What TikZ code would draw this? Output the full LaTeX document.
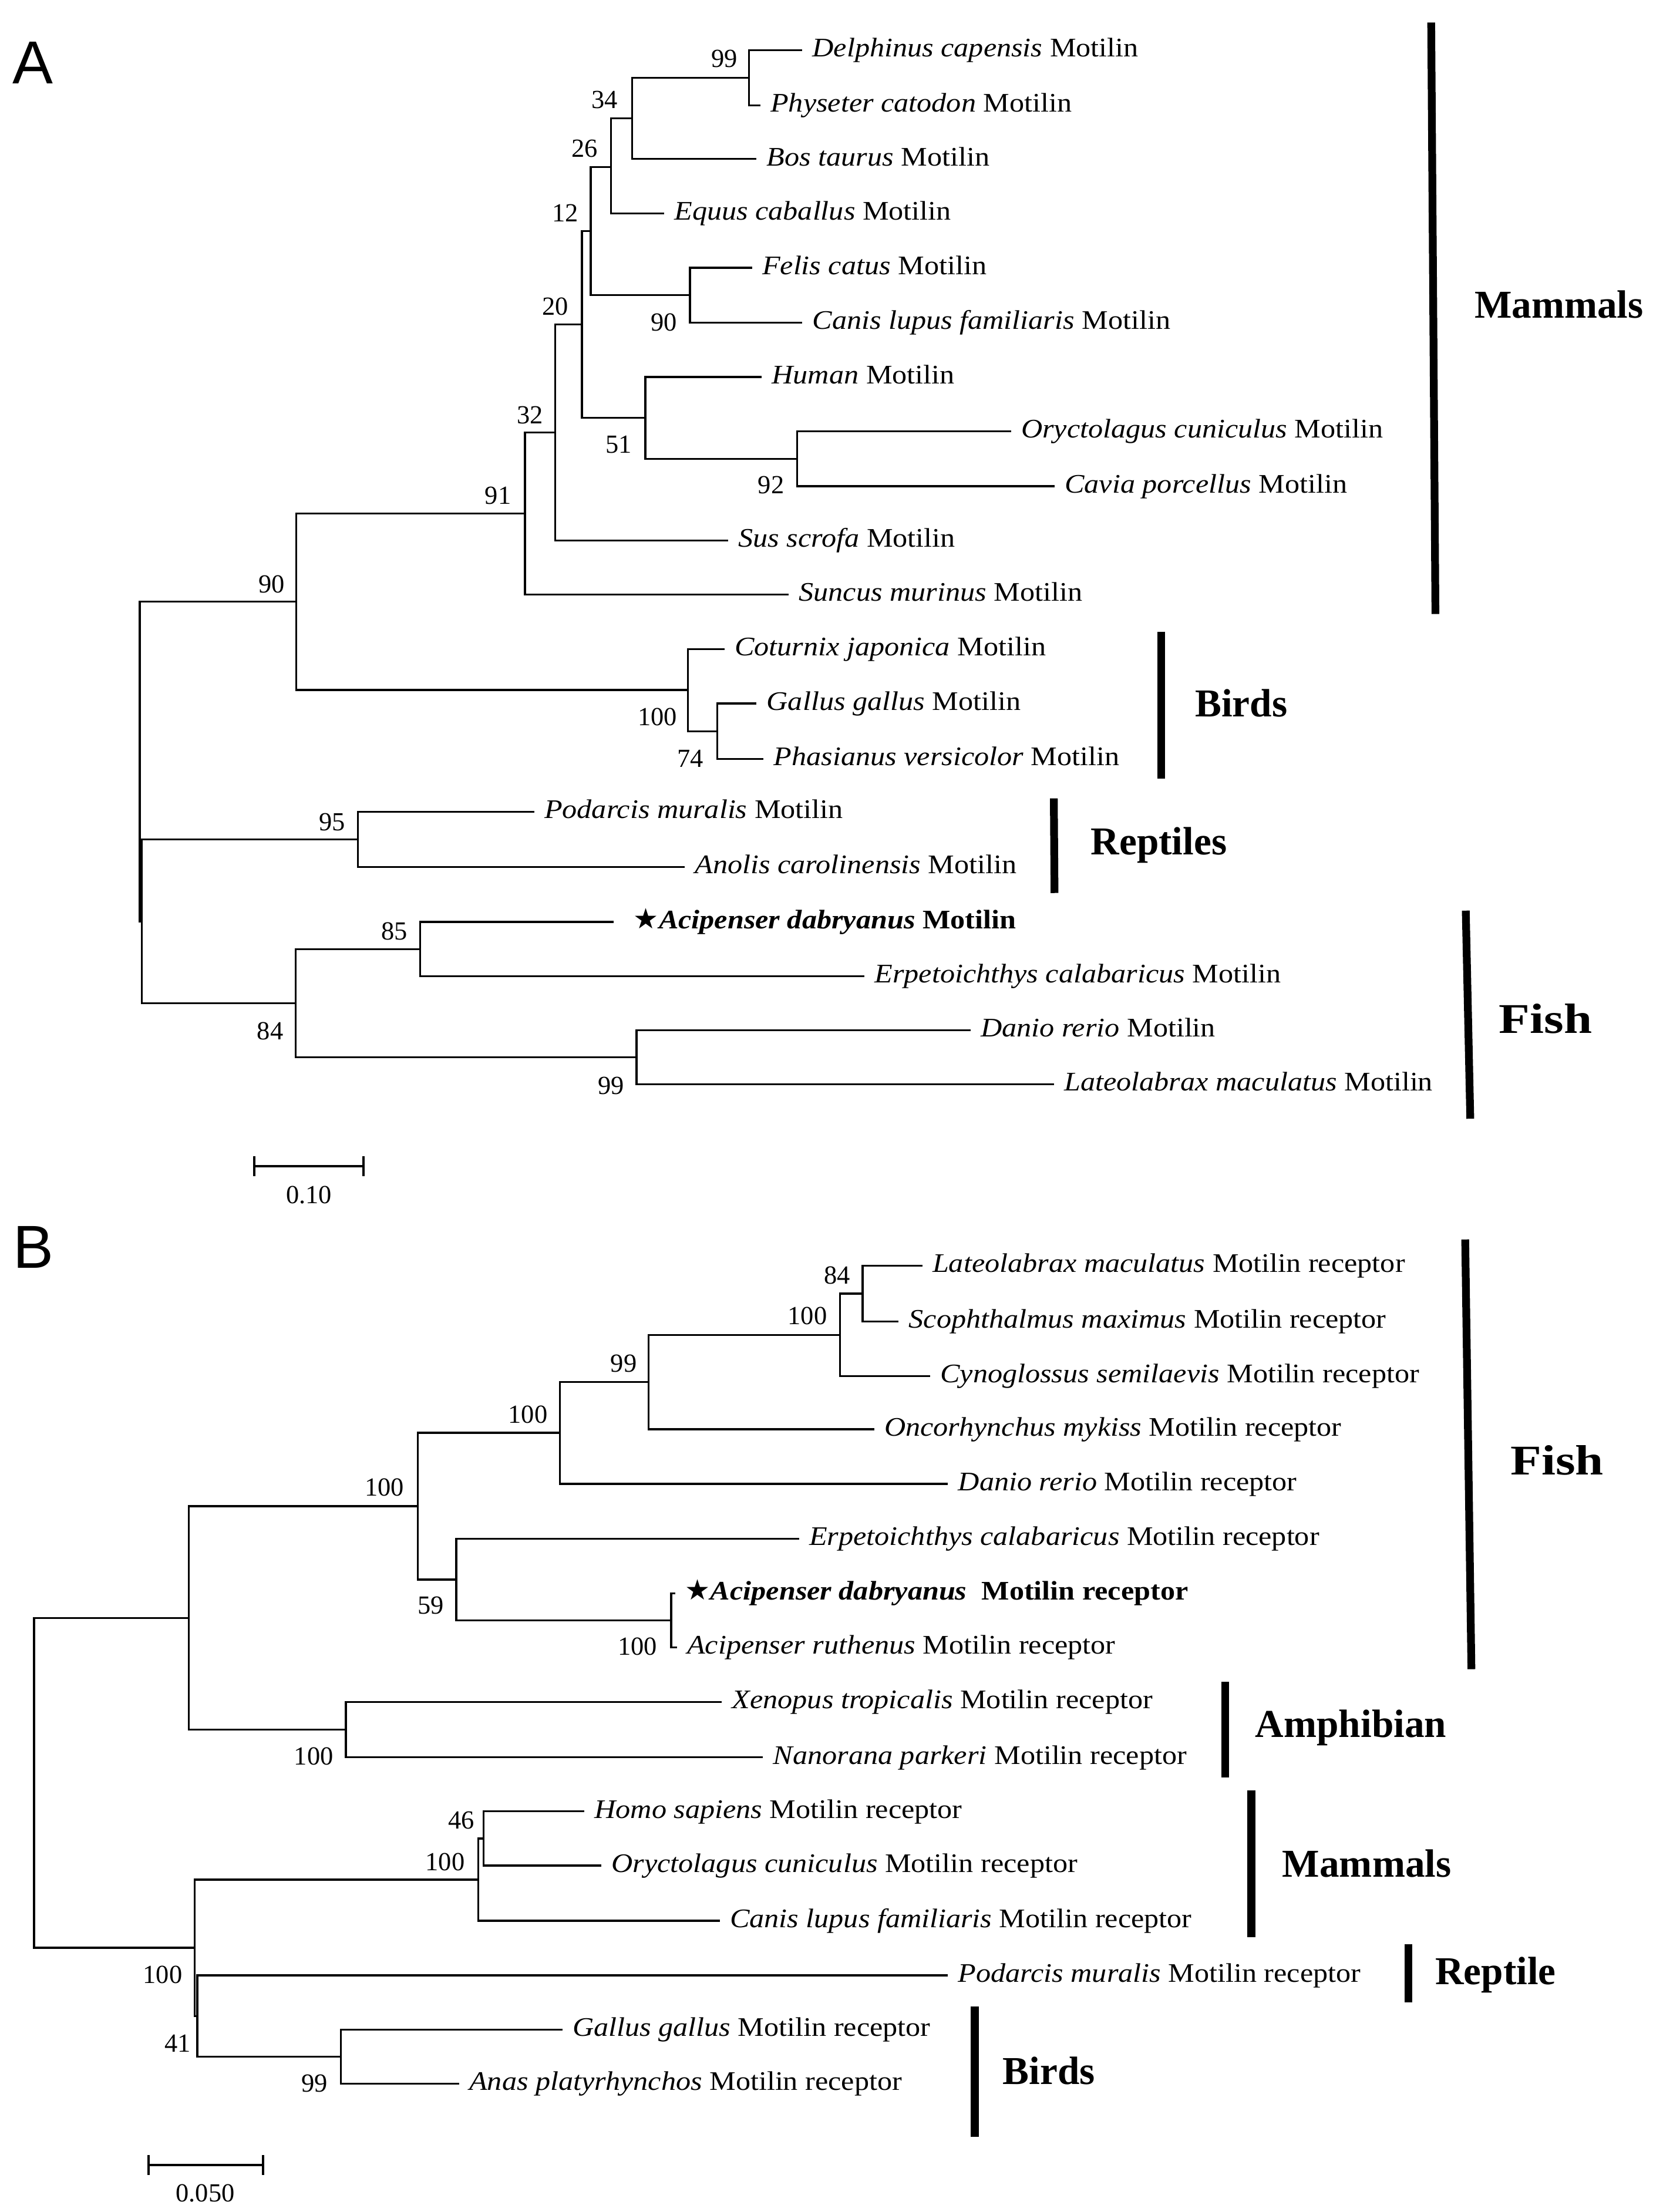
\documentclass[tikz,border=0pt]{standalone}
\usepackage{fontspec}
\setmainfont{Liberation Serif}
\newfontfamily\tipfont{Liberation Serif}[FakeStretch=1.1]
\newfontfamily\panelfont{Liberation Sans}
\newfontfamily\starfont{DejaVu Sans}
\newfontfamily\fishfont{Liberation Serif}[FakeStretch=1.2]
\newcommand{\stR}{{\starfont\fontsize{20}{20}\selectfont ★}}
\begin{document}
\begin{tikzpicture}[x=1pt,y=-1pt,
  br/.style={line width=1.4pt},
  sbar/.style={line width=1.6pt},
  grpbar/.style={line width=5.5pt},
  tipl/.style={anchor=west, inner xsep=7pt, inner ysep=0pt, text height=12pt, text depth=2.6pt, font=\tipfont\fontsize{19}{23}\selectfont},
  bs/.style={anchor=east, inner sep=0pt, text height=12.5pt, text depth=0pt, font=\fontsize{18.5}{20}\selectfont},
  grp/.style={anchor=west, inner sep=0pt, text height=19pt, text depth=0pt, font=\fontsize{28}{30}\selectfont\bfseries},
  fishl/.style={anchor=west, inner sep=0pt, text height=20.4pt, text depth=0pt, font=\fishfont\fontsize{30}{32}\selectfont\bfseries},
  panel/.style={anchor=base west, inner sep=0pt, font=\panelfont\fontsize{43}{43}\selectfont}]
\fill[white] (0,0) rectangle (1171.7,1568);
\useasboundingbox (0,0) rectangle (1171.7,1568);

% ================= Panel A =================
\node[panel] (pA) at (8.6,59.3) {A};

\coordinate (a99) at (530.9,55.2);
\coordinate (a34) at (448,83.95);
\coordinate (a26) at (433.2,118.3);
\coordinate (a12) at (418.7,163.9);
\coordinate (a90fc) at (489.1,209.25);
\coordinate (a20) at (412.5,230.1);
\coordinate (a51) at (457.4,296.2);
\coordinate (a92) at (565,325.2);
\coordinate (a32) at (393.5,306.65);
\coordinate (a91) at (372.1,364.05);
\coordinate (a90) at (209.9,426.5);
\coordinate (abirds) at (487.7,489.15);
\coordinate (a74) at (508.5,518.35);
\coordinate (aroot) at (99.1,539.7);
\coordinate (a2) at (100.6,653.2);
\coordinate (a95) at (253.7,594.95);
\coordinate (a84) at (209.5,711.1);
\coordinate (a85) at (297.9,672.75);
\coordinate (a99b) at (451.2,749.35);

\node[tipl] (dcap) at (568.7,35.6) {\textit{Delphinus capensis} Motilin};
\node[tipl] (pcat) at (539,74.8) {\textit{Physeter catodon} Motilin};
\node[tipl] (btau) at (536.3,112.7) {\textit{Bos taurus} Motilin};
\node[tipl] (ecab) at (470.8,151.3) {\textit{Equus caballus} Motilin};
\node[tipl] (fcat) at (533.1,189.8) {\textit{Felis catus} Motilin};
\node[tipl] (clup) at (568.7,228.7) {\textit{Canis lupus familiaris} Motilin};
\node[tipl] (hum) at (540,267.2) {\textit{Human} Motilin};
\node[tipl] (ocun) at (716.7,305.8) {\textit{Oryctolagus cuniculus} Motilin};
\node[tipl] (cpor) at (747.6,344.6) {\textit{Cavia porcellus} Motilin};
\node[tipl] (sscr) at (516.3,383.2) {\textit{Sus scrofa} Motilin};
\node[tipl] (smur) at (559.1,421.4) {\textit{Suncus murinus} Motilin};
\node[tipl] (cjap) at (513.6,460.2) {\textit{Coturnix japonica} Motilin};
\node[tipl] (ggal) at (536.3,498.7) {\textit{Gallus gallus} Motilin};
\node[tipl] (pver) at (541.3,538) {\textit{Phasianus versicolor} Motilin};
\node[tipl] (pmur) at (378.7,575.4) {\textit{Podarcis muralis} Motilin};
\node[tipl] (acar) at (485.5,614.5) {\textit{Anolis carolinensis} Motilin};
\node[tipl] (adab) at (434.9,653.5) {\hspace{7pt}\stR\textbf{\textit{Acipenser dabryanus} Motilin}};
\node[tipl] (ecal) at (612.8,692) {\textit{Erpetoichthys calabaricus} Motilin};
\node[tipl] (drer) at (688,730.2) {\textit{Danio rerio} Motilin};
\node[tipl] (lmac) at (747.2,768.5) {\textit{Lateolabrax maculatus} Motilin};

\draw[br] (a99) |- (dcap.west) (a99) |- (pcat.west);
\draw[br] (a34) |- (a99) (a34) |- (btau.west);
\draw[br] (a26) |- (a34) (a26) |- (ecab.west);
\draw[br] (a12) |- (a26) (a12) |- (a90fc);
\draw[br] (a90fc) |- (fcat.west) (a90fc) |- (clup.west);
\draw[br] (a20) |- (a12) (a20) |- (a51);
\draw[br] (a51) |- (hum.west) (a51) |- (a92);
\draw[br] (a92) |- (ocun.west) (a92) |- (cpor.west);
\draw[br] (a32) |- (a20) (a32) |- (sscr.west);
\draw[br] (a91) |- (a32) (a91) |- (smur.west);
\draw[br] (a90) |- (a91) (a90) |- (abirds);
\draw[br] (abirds) |- (cjap.west) (abirds) |- (a74);
\draw[br] (a74) |- (ggal.west) (a74) |- (pver.west);
\draw[br] (aroot) |- (a90) (aroot) |- (a2);
\draw[br] (a2) |- (a95) (a2) |- (a84);
\draw[br] (a95) |- (pmur.west) (a95) |- (acar.west);
\draw[br] (a84) |- (a85) (a84) |- (a99b);
\draw[br] (a85) |- (adab.west) (a85) |- (ecal.west);
\draw[br] (a99b) |- (drer.west) (a99b) |- (lmac.west);

\node[bs] (ba1) at (523,41.3) {99};
\node[bs] (ba2) at (438,70.7) {34};
\node[bs] (ba3) at (424,105) {26};
\node[bs] (ba4) at (410,151) {12};
\node[bs] (ba5) at (480,228.5) {90};
\node[bs] (ba6) at (403,217) {20};
\node[bs] (ba7) at (448,315) {51};
\node[bs] (ba8) at (556,343.8) {92};
\node[bs] (ba9) at (385,294) {32};
\node[bs] (ba10) at (362.5,351) {91};
\node[bs] (ba11) at (202,414) {90};
\node[bs] (ba12) at (480,508) {100};
\node[bs] (ba13) at (498.8,537.4) {74};
\node[bs] (ba14) at (245,582.5) {95};
\node[bs] (ba15) at (289,659.8) {85};
\node[bs] (ba16) at (201,730.5) {84};
\node[bs] (ba17) at (442.5,769.5) {99};

\draw[grpbar] (1014.5,16) -- (1017.5,435.2);
\node[grp] (gA1) at (1045,216) {Mammals};
\draw[grpbar] (823,447.7) -- (823,551.8);
\node[grp] (gA2) at (847,498.6) {Birds};
\draw[grpbar] (747,565.9) -- (747.5,633);
\node[grp] (gA3) at (773,596.3) {Reptiles};
\draw[grpbar] (1039,645.5) -- (1042.2,793);
\node[fishl] (gA4) at (1062.3,722.1) {Fish};

\coordinate (sa1) at (180.2,826.6);
\coordinate (sa2) at (257.5,826.6);
\draw[sbar] (sa1) -- (sa2);
\draw[sbar] ([yshift=7pt]sa1) -- ([yshift=-7pt]sa1);
\draw[sbar] ([yshift=7pt]sa2) -- ([yshift=-7pt]sa2);
\node[bs,anchor=center] (sla) at (218.9,846.8) {0.10};

% ================= Panel B =================
\node[panel] (pB) at (9,898.9) {B};

\coordinate (b84) at (611.5,916.95);
\coordinate (b100a) at (595.5,946.2);
\coordinate (b99) at (459.8,979.65);
\coordinate (b100b) at (397,1015.7);
\coordinate (b100d) at (475.7,1148.6);
\coordinate (b59) at (323.4,1119.7);
\coordinate (b100c) at (296.2,1067.7);
\coordinate (bamph) at (245.1,1226.05);
\coordinate (bn1) at (133.9,1146.9);
\coordinate (b46) at (342.8,1303.2);
\coordinate (bmam) at (339,1332.35);
\coordinate (bbird) at (241.6,1457.9);
\coordinate (bn3) at (139.8,1429.05);
\coordinate (bn2) at (138,1380.7);
\coordinate (broot) at (24.2,1263.8);

\node[tipl] (lmacB) at (653.8,897.2) {\textit{Lateolabrax maculatus} Motilin receptor};
\node[tipl] (smax) at (637,936.7) {\textit{Scophthalmus maximus} Motilin receptor};
\node[tipl] (csem) at (659.3,975.4) {\textit{Cynoglossus semilaevis} Motilin receptor};
\node[tipl] (omyk) at (619.7,1013.1) {\textit{Oncorhynchus mykiss} Motilin receptor};
\node[tipl] (drerB) at (672,1051.8) {\textit{Danio rerio} Motilin receptor};
\node[tipl] (ecalB) at (566.4,1090.8) {\textit{Erpetoichthys calabaricus} Motilin receptor};
\node[tipl] (adabB) at (478.5,1129.5) {\stR\textbf{\textit{Acipenser dabryanus}\ \ Motilin receptor}};
\node[tipl] (arut) at (479.9,1167.7) {\textit{Acipenser ruthenus} Motilin receptor};
\node[tipl] (xtro) at (511.7,1206.4) {\textit{Xenopus tropicalis} Motilin receptor};
\node[tipl] (npar) at (540.9,1245.7) {\textit{Nanorana parkeri} Motilin receptor};
\node[tipl] (hsap) at (414.2,1284) {\textit{Homo sapiens} Motilin receptor};
\node[tipl] (ocunB) at (426.3,1322.4) {\textit{Oryctolagus cuniculus} Motilin receptor};
\node[tipl] (clupB) at (510.2,1361.5) {\textit{Canis lupus familiaris} Motilin receptor};
\node[tipl] (pmurB) at (672,1400.2) {\textit{Podarcis muralis} Motilin receptor};
\node[tipl] (ggalB) at (398.7,1438.7) {\textit{Gallus gallus} Motilin receptor};
\node[tipl] (apla) at (325.5,1477.1) {\textit{Anas platyrhynchos} Motilin receptor};

\draw[br] (b84) |- (lmacB.west) (b84) |- (smax.west);
\draw[br] (b100a) |- (b84) (b100a) |- (csem.west);
\draw[br] (b99) |- (b100a) (b99) |- (omyk.west);
\draw[br] (b100b) |- (b99) (b100b) |- (drerB.west);
\draw[br] (b100c) |- (b100b) (b100c) |- (b59);
\draw[br] (b59) |- (ecalB.west) (b59) |- (b100d);
\draw[br] (b100d) |- (adabB.west) (b100d) |- (arut.west);
\draw[br] (bn1) |- (b100c) (bn1) |- (bamph);
\draw[br] (bamph) |- (xtro.west) (bamph) |- (npar.west);
\draw[br] (broot) |- (bn1) (broot) |- (bn2);
\draw[br] (bn2) |- (bmam) (bn2) |- (bn3);
\draw[br] (bmam) |- (b46) (bmam) |- (clupB.west);
\draw[br] (b46) |- (hsap.west) (b46) |- (ocunB.west);
\draw[br] (bn3) |- (pmurB.west) (bn3) |- (bbird);
\draw[br] (bbird) |- (ggalB.west) (bbird) |- (apla.west);

\node[bs] (bb1) at (602.8,903.7) {84};
\node[bs] (bb2) at (586.4,932.7) {100};
\node[bs] (bb3) at (451.5,966.4) {99};
\node[bs] (bb4) at (388.3,1002.7) {100};
\node[bs] (bb5) at (286.5,1054.3) {100};
\node[bs] (bb6) at (314.8,1137.9) {59};
\node[bs] (bb7) at (466,1167) {100};
\node[bs] (bb8) at (236.4,1244.7) {100};
\node[bs] (bb9) at (336.6,1290) {46};
\node[bs] (bb10) at (329.6,1319.8) {100};
\node[bs] (bb11) at (129.4,1399.8) {100};
\node[bs] (bb12) at (135.3,1448.3) {41};
\node[bs] (bb13) at (232.3,1476.6) {99};

\draw[grpbar] (1038.6,878.6) -- (1043,1183.2);
\node[fishl] (gB1) at (1070.5,1035) {Fish};
\draw[grpbar] (868.5,1192.3) -- (868.5,1259.8);
\node[grp] (gB2) at (889.7,1222) {Amphibian};
\draw[grpbar] (887,1269) -- (887,1373);
\node[grp] (gB3) at (908.8,1321) {Mammals};
\draw[grpbar] (998.5,1378) -- (998.5,1419.5);
\node[grp] (gB4) at (1017.2,1397) {Reptile};
\draw[grpbar] (691,1422.5) -- (691,1514.6);
\node[grp] (gB5) at (710.7,1468) {Birds};

\coordinate (sb1) at (105.3,1534.7);
\coordinate (sb2) at (186.4,1534.7);
\draw[sbar] (sb1) -- (sb2);
\draw[sbar] ([yshift=7pt]sb1) -- ([yshift=-7pt]sb1);
\draw[sbar] ([yshift=7pt]sb2) -- ([yshift=-7pt]sb2);
\node[bs,anchor=center] (slb) at (145.5,1554.3) {0.050};
\end{tikzpicture}
\end{document}
